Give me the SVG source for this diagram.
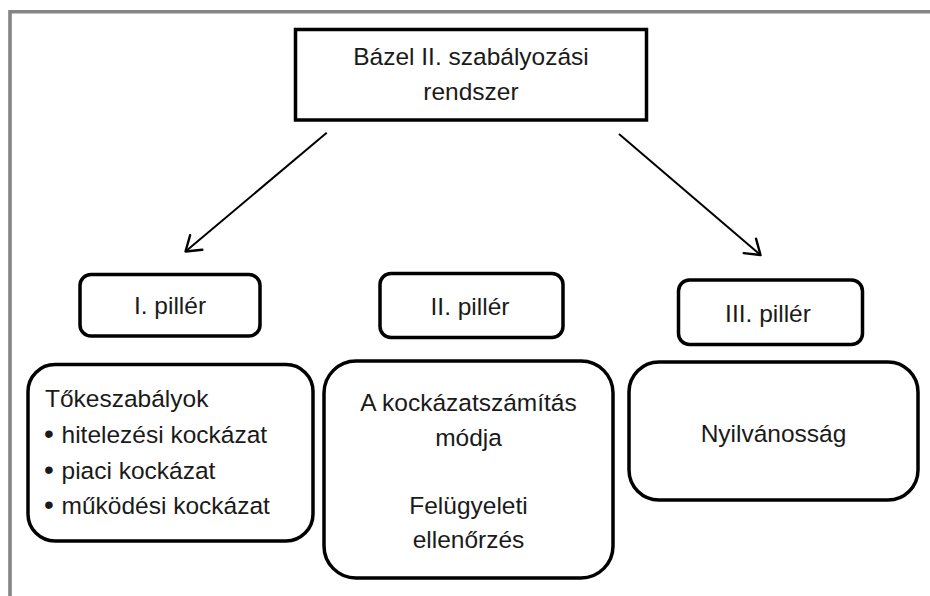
<svg xmlns="http://www.w3.org/2000/svg" width="930" height="596" viewBox="0 0 930 596">
<style>
.box{fill:#fff;stroke:#000;stroke-width:3.5}
.t{font-family:"Liberation Sans",Arial,sans-serif;font-size:24.5px;fill:#1a1a1a}
.c{text-anchor:middle}
.conn{stroke:#000;stroke-width:2;fill:none}
.frame{stroke:#858585;stroke-width:3.6;fill:none}
</style>
<defs>
<marker id="arr" markerUnits="userSpaceOnUse" markerWidth="18" markerHeight="22" viewBox="0 0 17 22" refX="15.5" refY="11" orient="auto">
<path d="M1.5,1.5 L15.5,11 L1.5,20.5" fill="none" stroke="#000" stroke-width="2.4" stroke-linecap="round" stroke-linejoin="round"/>
</marker>
</defs>
<rect width="930" height="596" fill="#fff"/>
<path class="frame" d="M10,596 V11.8 H930"/>
<g id="connectors">
<line class="conn" x1="326.7" y1="132.7" x2="185.5" y2="251.5" marker-end="url(#arr)"/>
<line class="conn" x1="619" y1="134" x2="760.5" y2="255" marker-end="url(#arr)"/>
</g>
<g id="root">
<rect class="box" x="295.5" y="29.5" width="351" height="90.5"/>
<text class="t c" x="471" y="65" font-size="24">Bázel II. szabályozási</text>
<text class="t c" x="471" y="100" font-size="24">rendszer</text>
</g>
<g id="pillar1">
<rect class="box" x="80" y="274.5" width="180" height="61.5" rx="11"/>
<text class="t c" x="170" y="313.5">I. pillér</text>
</g>
<g id="pillar2">
<rect class="box" x="380" y="273.5" width="183" height="64" rx="11"/>
<text class="t c" x="470" y="315">II. pillér</text>
</g>
<g id="pillar3">
<rect class="box" x="678.5" y="280" width="184" height="64.5" rx="11"/>
<text class="t c" x="768" y="321.5">III. pillér</text>
</g>
<g id="detail1">
<rect class="box" x="28" y="364.5" width="285" height="176.5" rx="27"/>
<text class="t" x="45" y="407">Tőkeszabályok</text>
<text class="t" y="443"><tspan x="44" font-size="28">•</tspan><tspan x="61.5">hitelezési kockázat</tspan></text>
<text class="t" y="478.5"><tspan x="44" font-size="28">•</tspan><tspan x="61.5">piaci kockázat</tspan></text>
<text class="t" y="514"><tspan x="44" font-size="28">•</tspan><tspan x="61.5">működési kockázat</tspan></text>
</g>
<g id="detail2">
<rect class="box" x="324" y="361" width="289" height="217" rx="32"/>
<text class="t c" x="468.5" y="411">A kockázatszámítás</text>
<text class="t c" x="468.5" y="445.5">módja</text>
<text class="t c" x="468.5" y="513.5">Felügyeleti</text>
<text class="t c" x="468.5" y="548">ellenőrzés</text>
</g>
<g id="detail3">
<rect class="box" x="629" y="362" width="289" height="138" rx="30"/>
<text class="t c" x="773.5" y="442">Nyilvánosság</text>
</g>
</svg>
